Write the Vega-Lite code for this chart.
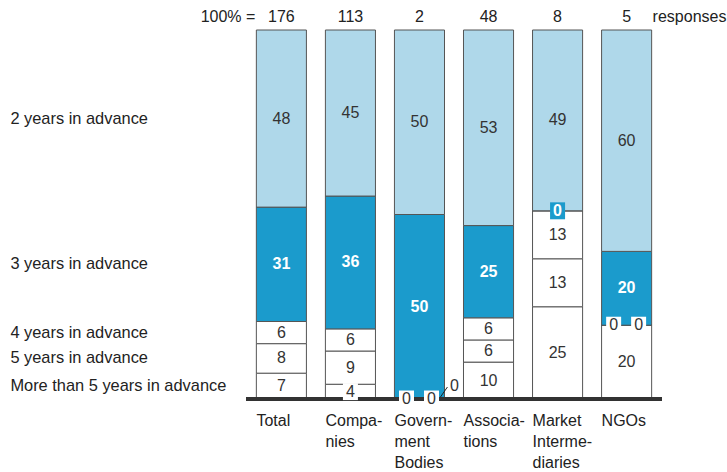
{
  "$schema": "https://vega.github.io/schema/vega-lite/v6.json",
  "width": 416,
  "height": 369,
  "autosize": {"type": "none"},
  "padding": {"left": 246, "top": 30, "right": 65, "bottom": 73},
  "config": {"font": "Liberation Sans", "view": {"stroke": null}},
  "layer": [
    {
      "data": {"values": [
        {"cat": "Total", "seg": "More than 5 years in advance", "value": 7},
        {"cat": "Total", "seg": "5 years in advance", "value": 8},
        {"cat": "Total", "seg": "4 years in advance", "value": 6},
        {"cat": "Total", "seg": "3 years in advance", "value": 31},
        {"cat": "Total", "seg": "2 years in advance", "value": 48},
        {"cat": "Companies", "seg": "More than 5 years in advance", "value": 4},
        {"cat": "Companies", "seg": "5 years in advance", "value": 9},
        {"cat": "Companies", "seg": "4 years in advance", "value": 6},
        {"cat": "Companies", "seg": "3 years in advance", "value": 36},
        {"cat": "Companies", "seg": "2 years in advance", "value": 45},
        {"cat": "Government Bodies", "seg": "More than 5 years in advance", "value": 0},
        {"cat": "Government Bodies", "seg": "5 years in advance", "value": 0},
        {"cat": "Government Bodies", "seg": "4 years in advance", "value": 0},
        {"cat": "Government Bodies", "seg": "3 years in advance", "value": 50},
        {"cat": "Government Bodies", "seg": "2 years in advance", "value": 50},
        {"cat": "Associations", "seg": "More than 5 years in advance", "value": 10},
        {"cat": "Associations", "seg": "5 years in advance", "value": 6},
        {"cat": "Associations", "seg": "4 years in advance", "value": 6},
        {"cat": "Associations", "seg": "3 years in advance", "value": 25},
        {"cat": "Associations", "seg": "2 years in advance", "value": 53},
        {"cat": "Market Intermediaries", "seg": "More than 5 years in advance", "value": 25},
        {"cat": "Market Intermediaries", "seg": "5 years in advance", "value": 13},
        {"cat": "Market Intermediaries", "seg": "4 years in advance", "value": 13},
        {"cat": "Market Intermediaries", "seg": "3 years in advance", "value": 0},
        {"cat": "Market Intermediaries", "seg": "2 years in advance", "value": 49},
        {"cat": "NGOs", "seg": "More than 5 years in advance", "value": 20},
        {"cat": "NGOs", "seg": "5 years in advance", "value": 0},
        {"cat": "NGOs", "seg": "4 years in advance", "value": 0},
        {"cat": "NGOs", "seg": "3 years in advance", "value": 20},
        {"cat": "NGOs", "seg": "2 years in advance", "value": 60}
      ]},
      "transform": [
        {"stack": "value", "groupby": ["cat"], "sort": [{"field": "seg", "order": "descending"}], "as": ["y0", "y1"]},
        {"calculate": "(datum.y0 + datum.y1) / 2", "as": "mid"}
      ],
      "layer": [
        {
          "mark": {"type": "bar", "stroke": "#555", "strokeWidth": 1},
          "encoding": {
            "x": {
              "field": "cat", "type": "nominal",
              "scale": {"domain": ["Total", "Companies", "Government Bodies", "Associations", "Market Intermediaries", "NGOs"], "paddingInner": 0.275, "paddingOuter": 0.15},
              "axis": {
                "orient": "bottom", "title": null, "domain": false, "ticks": false,
                "labelAngle": 0, "labelAlign": "left", "labelBaseline": "top", "labelOffset": -25,
                "labelPadding": 13, "labelFontSize": 16, "labelLineHeight": 21, "labelColor": "#222",
                "labelOverlap": false, "labelBound": false, "labelLimit": 0,
                "labelExpr": "datum.value == 'Companies' ? ['Compa-', 'nies'] : datum.value == 'Government Bodies' ? ['Govern-', 'ment', 'Bodies'] : datum.value == 'Associations' ? ['Associa-', 'tions'] : datum.value == 'Market Intermediaries' ? ['Market', 'Interme-', 'diaries'] : datum.label"
              }
            },
            "y": {"field": "y0", "type": "quantitative", "scale": {"domain": [0, 100]}, "axis": null},
            "y2": {"field": "y1"},
            "color": {
              "field": "seg", "type": "nominal", "legend": null,
              "scale": {
                "domain": ["More than 5 years in advance", "5 years in advance", "4 years in advance", "3 years in advance", "2 years in advance"],
                "range": ["#ffffff", "#ffffff", "#ffffff", "#1b9bcc", "#afd8ea"]
              }
            }
          }
        },
        {
          "mark": {"type": "rule", "color": "#333", "strokeWidth": 3},
          "encoding": {"y": {"datum": 0}}
        },
        {
          "transform": [{"filter": "datum.cat == 'Companies' && datum.seg == 'More than 5 years in advance'"}],
          "mark": {"type": "point", "shape": "M-1,-1.13H1V1.13H-1Z", "size": 225, "filled": true, "color": "#ffffff", "opacity": 1, "strokeWidth": 0},
          "encoding": {"x": {"field": "cat", "type": "nominal"}, "y": {"field": "mid", "type": "quantitative"}}
        },
        {
          "transform": [{"filter": "(datum.cat == 'Government Bodies' && datum.seg == 'More than 5 years in advance') || (datum.cat == 'NGOs' && datum.seg == '5 years in advance')"}],
          "layer": [
            {
              "mark": {"type": "point", "shape": "M-2.73,-1.13H-0.73V1.13H-2.73Z", "size": 225, "filled": true, "color": "#ffffff", "opacity": 1, "strokeWidth": 0},
              "encoding": {"x": {"field": "cat", "type": "nominal"}, "y": {"field": "mid", "type": "quantitative"}}
            },
            {
              "mark": {"type": "text", "dx": -13, "fontSize": 16, "color": "#333"},
              "encoding": {"x": {"field": "cat", "type": "nominal"}, "y": {"field": "mid", "type": "quantitative"}, "text": {"field": "value"}}
            }
          ]
        },
        {
          "transform": [{"filter": "(datum.cat == 'Government Bodies' && datum.seg == '5 years in advance') || (datum.cat == 'NGOs' && datum.seg == '4 years in advance')"}],
          "layer": [
            {
              "mark": {"type": "point", "shape": "M0.6,-1.13H2.6V1.13H0.6Z", "size": 225, "filled": true, "color": "#ffffff", "opacity": 1, "strokeWidth": 0},
              "encoding": {"x": {"field": "cat", "type": "nominal"}, "y": {"field": "mid", "type": "quantitative"}}
            },
            {
              "mark": {"type": "text", "dx": 12, "fontSize": 16, "color": "#333"},
              "encoding": {"x": {"field": "cat", "type": "nominal"}, "y": {"field": "mid", "type": "quantitative"}, "text": {"field": "value"}}
            }
          ]
        },
        {
          "transform": [{"filter": "datum.cat == 'Government Bodies' && datum.seg == '4 years in advance'"}],
          "layer": [
            {
              "mark": {"type": "point", "shape": "M2.8,-0.27L3.73,-1.6", "size": 225, "filled": false, "color": "#222", "opacity": 1, "strokeWidth": 1},
              "encoding": {"x": {"field": "cat", "type": "nominal"}, "y": {"field": "mid", "type": "quantitative"}}
            },
            {
              "mark": {"type": "text", "dx": 35, "dy": -13, "fontSize": 16, "color": "#333"},
              "encoding": {"x": {"field": "cat", "type": "nominal"}, "y": {"field": "mid", "type": "quantitative"}, "text": {"field": "value"}}
            }
          ]
        },
        {
          "transform": [{"filter": "datum.cat == 'Market Intermediaries' && datum.seg == '3 years in advance'"}],
          "layer": [
            {
              "mark": {"type": "point", "shape": "M-1,-1.13H1V1.13H-1Z", "size": 225, "filled": true, "color": "#1b9bcc", "opacity": 1, "strokeWidth": 0},
              "encoding": {"x": {"field": "cat", "type": "nominal"}, "y": {"field": "mid", "type": "quantitative"}}
            },
            {
              "mark": {"type": "text", "fontSize": 16, "fontWeight": "bold", "color": "#ffffff"},
              "encoding": {"x": {"field": "cat", "type": "nominal"}, "y": {"field": "mid", "type": "quantitative"}, "text": {"field": "value"}}
            }
          ]
        },
        {
          "transform": [{"filter": "datum.value > 0 && datum.seg != '3 years in advance'"}],
          "mark": {"type": "text", "fontSize": 16, "color": "#333"},
          "encoding": {"x": {"field": "cat", "type": "nominal"}, "y": {"field": "mid", "type": "quantitative"}, "text": {"field": "value"}}
        },
        {
          "transform": [{"filter": "datum.value > 0 && datum.seg == '3 years in advance'"}],
          "mark": {"type": "text", "fontSize": 16, "fontWeight": "bold", "color": "#ffffff"},
          "encoding": {"x": {"field": "cat", "type": "nominal"}, "y": {"field": "mid", "type": "quantitative"}, "text": {"field": "value"}}
        },
        {
          "transform": [{"filter": "datum.cat == 'Total'"}],
          "mark": {"type": "text", "align": "left", "dx": -271, "fontSize": 16.4, "color": "#222"},
          "encoding": {"x": {"field": "cat", "type": "nominal"}, "y": {"field": "mid", "type": "quantitative"}, "text": {"field": "seg"}}
        }
      ]
    },
    {
      "data": {"values": [
        {"cat": "Total", "n": 176},
        {"cat": "Companies", "n": 113},
        {"cat": "Government Bodies", "n": 2},
        {"cat": "Associations", "n": 48},
        {"cat": "Market Intermediaries", "n": 8},
        {"cat": "NGOs", "n": 5}
      ]},
      "layer": [
        {
          "mark": {"type": "text", "fontSize": 16, "color": "#222", "dy": -13},
          "encoding": {"x": {"field": "cat", "type": "nominal"}, "y": {"datum": 100}, "text": {"field": "n"}}
        },
        {
          "transform": [{"filter": "datum.cat == 'Total'"}],
          "mark": {"type": "text", "fontSize": 16, "color": "#222", "dy": -13, "dx": -26, "align": "right"},
          "encoding": {"x": {"field": "cat", "type": "nominal"}, "y": {"datum": 100}, "text": {"value": "100% ="}}
        },
        {
          "transform": [{"filter": "datum.cat == 'NGOs'"}],
          "mark": {"type": "text", "fontSize": 16, "color": "#222", "dy": -13, "dx": 26, "align": "left"},
          "encoding": {"x": {"field": "cat", "type": "nominal"}, "y": {"datum": 100}, "text": {"value": "responses"}}
        }
      ]
    }
  ]
}
